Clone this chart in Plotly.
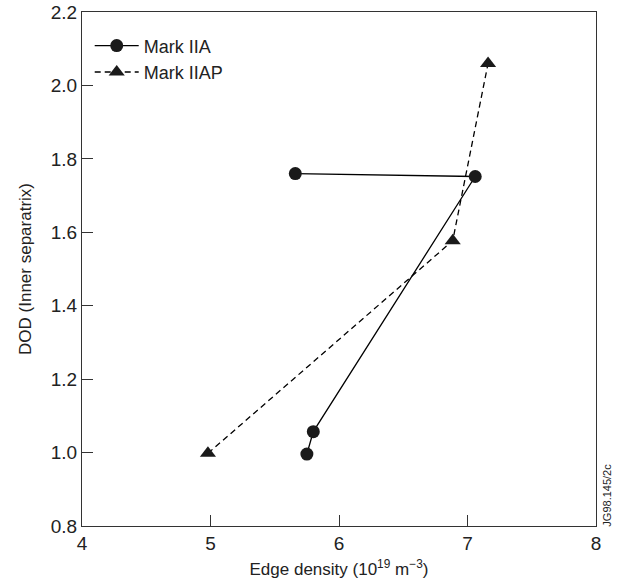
import plotly.graph_objects as go

# Edge density (1e19 m^-3) vs. inner-separatrix DOD
mark_iia_density = [5.66, 7.06, 5.80, 5.75]
mark_iia_dod = [1.76, 1.752, 1.057, 0.996]

mark_iiap_density = [4.98, 6.885, 7.16]
mark_iiap_dod = [0.998, 1.577, 2.06]

x_ticks = [4, 5, 6, 7, 8]
y_ticks = [0.8, 1.0, 1.2, 1.4, 1.6, 1.8, 2.0, 2.2]

FONT = "Liberation Sans, Arial, sans-serif"

fig = go.Figure()
fig.add_trace(go.Scatter(
    x=mark_iia_density, y=mark_iia_dod, mode="lines+markers", name="Mark IIA",
    line=dict(color="black", width=1.3),
    marker=dict(symbol="circle", size=13, color="#1a1a1a"),
))
fig.add_trace(go.Scatter(
    x=mark_iiap_density, y=mark_iiap_dod, mode="lines+markers", name="Mark IIAP",
    line=dict(color="black", width=1.3, dash="6px,4px"),
    marker=dict(symbol="triangle-up", size=14, color="#1a1a1a"),
))

axis_common = dict(
    showgrid=False, zeroline=False, showline=True, mirror=True,
    linecolor="#333333", linewidth=1.3, automargin=False,
    ticks="inside", ticklen=11, tickwidth=1, tickcolor="#333333",
    tickfont=dict(family=FONT, size=19, color="#222222"),
)

fig.update_xaxes(
    range=[4, 8], tickvals=x_ticks, ticktext=[str(v) for v in x_ticks],
    title=dict(text="Edge density (10<sup>19</sup> m<sup>\u22123</sup>)",
               font=dict(family=FONT, size=17, color="#222222"), standoff=10),
    **axis_common,
)
fig.update_yaxes(
    range=[0.8, 2.2], tickvals=y_ticks, ticktext=[f"{v:.1f}" for v in y_ticks],
    title=dict(text="DOD (Inner separatrix)",
               font=dict(family=FONT, size=17, color="#222222"), standoff=14),
    **axis_common,
)

fig.add_annotation(
    text="JG98.145/2c", xref="paper", yref="paper", x=1.005, y=-0.005,
    xanchor="left", yanchor="bottom", textangle=-90, showarrow=False,
    font=dict(family=FONT, size=11, color="#222222"),
)

fig.update_layout(
    width=626, height=586,
    margin=dict(l=82, r=30, t=12, b=60),
    paper_bgcolor="white", plot_bgcolor="white",
    font=dict(family=FONT, color="#222222"),
    legend=dict(x=0.015, y=0.97, xanchor="left", yanchor="top",
                bgcolor="rgba(0,0,0,0)", font=dict(family=FONT, size=18),
                itemwidth=44, tracegroupgap=2),
    showlegend=True,
)

fig.write_html("out.html")
